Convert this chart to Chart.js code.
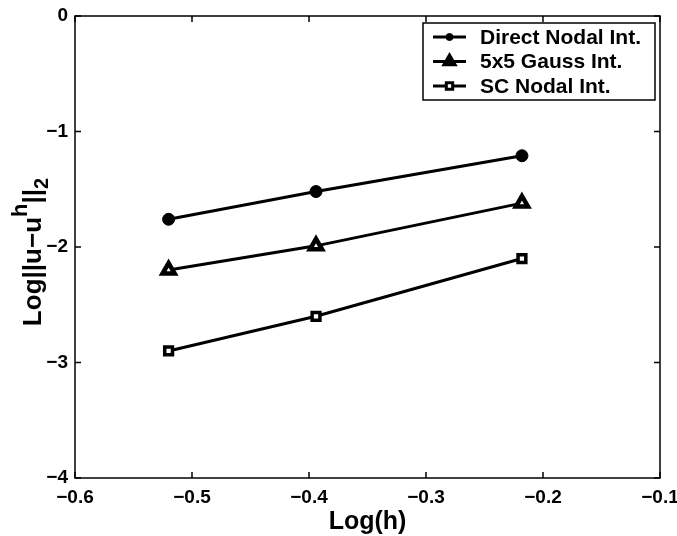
<!DOCTYPE html>
<html>
<head>
<meta charset="utf-8">
<script src="https://cdn.jsdelivr.net/npm/chart.js@4"></script>
<style>
  html, body { margin: 0; padding: 0; background: #ffffff; }
  #wrap { width: 677px; height: 536px; }
</style>
</head>
<body>
<div id="wrap"><canvas id="c" width="677" height="536"></canvas></div>
<script>
// Mesh size (log10 h) and L2 error norms for the three integration schemes
const logH = [-0.52, -0.394, -0.218];
const directNodal = [-1.76, -1.52, -1.21];
const gauss5x5 = [-2.20, -1.99, -1.62];
const scNodal = [-2.90, -2.60, -2.10];
const seriesNames = ['Direct Nodal Int.', '5x5 Gauss Int.', 'SC Nodal Int.'];
const xTicks = [-0.6, -0.5, -0.4, -0.3, -0.2, -0.1];
const yTicks = [0, -1, -2, -3, -4];

const FONT = '"Liberation Sans", Arial, Helvetica, sans-serif';
const INK = '#000000';

function pts(ys) { return logH.map((x, i) => ({ x: x, y: ys[i] })); }

const styles = [
  { pointStyle: 'circle', radius: 6, fill: INK, border: 1, legendRadius: 3.5, legendFill: INK },
  { pointStyle: 'triangle', radius: 7, fill: '#ffffff', border: 4.5, legendRadius: 6.5, legendFill: INK },
  { pointStyle: 'rect', radius: 5.5, fill: '#ffffff', border: 3.5, legendRadius: 4.5, legendFill: '#ffffff' }
];

const datasets = [directNodal, gauss5x5, scNodal].map((ys, i) => ({
  label: seriesNames[i],
  data: pts(ys),
  showLine: true,
  borderColor: INK,
  borderWidth: 3,
  pointStyle: styles[i].pointStyle,
  pointRadius: styles[i].radius,
  pointBackgroundColor: styles[i].fill,
  pointBorderColor: INK,
  pointBorderWidth: styles[i].border,
  tension: 0
}));

// Box frame with inward ticks on all four sides, plus axis titles
const framePlugin = {
  id: 'frame',
  afterDatasetsDraw(chart) {
    const { ctx, chartArea: a, scales } = chart;
    ctx.save();
    ctx.strokeStyle = INK;
    ctx.lineWidth = 1.5;
    ctx.strokeRect(a.left, a.top, a.right - a.left, a.bottom - a.top);
    const len = 6;
    ctx.beginPath();
    xTicks.forEach(v => {
      const px = scales.x.getPixelForValue(v);
      ctx.moveTo(px, a.bottom); ctx.lineTo(px, a.bottom - len);
      ctx.moveTo(px, a.top); ctx.lineTo(px, a.top + len);
    });
    yTicks.forEach(v => {
      const py = scales.y.getPixelForValue(v);
      ctx.moveTo(a.left, py); ctx.lineTo(a.left + len, py);
      ctx.moveTo(a.right, py); ctx.lineTo(a.right - len, py);
    });
    ctx.stroke();

    // x title
    ctx.fillStyle = INK;
    ctx.font = 'bold 25px ' + FONT;
    ctx.textAlign = 'center';
    ctx.textBaseline = 'alphabetic';
    ctx.fillText('Log(h)', (a.left + a.right) / 2, 529);

    // y title: Log||u-u^h||_2, rotated
    ctx.translate(41, 252);
    ctx.rotate(-Math.PI / 2);
    const parts = [
      { t: 'Log||u\u2212u', size: 26, dy: 0 },
      { t: 'h', size: 22, dy: -14 },
      { t: '||', size: 26, dy: 0 },
      { t: '2', size: 20, dy: 7 }
    ];
    let total = 0;
    parts.forEach(p => { ctx.font = 'bold ' + p.size + 'px ' + FONT; p.w = ctx.measureText(p.t).width; total += p.w; });
    let x0 = -total / 2;
    ctx.textAlign = 'left';
    parts.forEach(p => {
      ctx.font = 'bold ' + p.size + 'px ' + FONT;
      ctx.fillText(p.t, x0, p.dy);
      x0 += p.w;
    });
    ctx.restore();
  }
};

// Boxed legend in the upper right, each entry a line sample with its marker
const legendPlugin = {
  id: 'boxLegend',
  afterDraw(chart) {
    const { ctx } = chart;
    const box = { x: 423, y: 23, w: 232, h: 77 };
    ctx.save();
    ctx.fillStyle = '#ffffff';
    ctx.fillRect(box.x, box.y, box.w, box.h);
    ctx.strokeStyle = INK;
    ctx.lineWidth = 1.5;
    ctx.strokeRect(box.x, box.y, box.w, box.h);
    chart.data.datasets.forEach((ds, i) => {
      const cy = box.y + 14 + i * 24.5;
      const sx0 = box.x + 10, sx1 = box.x + 43;
      ctx.strokeStyle = INK;
      ctx.lineWidth = 3;
      ctx.beginPath(); ctx.moveTo(sx0, cy); ctx.lineTo(sx1, cy); ctx.stroke();
      ctx.fillStyle = styles[i].legendFill;
      ctx.lineWidth = Math.min(ds.pointBorderWidth, 3);
      Chart.helpers.drawPoint(ctx, {
        pointStyle: ds.pointStyle,
        radius: styles[i].legendRadius,
        borderWidth: Math.min(ds.pointBorderWidth, 3),
        rotation: 0
      }, (sx0 + sx1) / 2, cy);
      ctx.fillStyle = INK;
      ctx.font = 'bold 21px ' + FONT;
      ctx.textAlign = 'left';
      ctx.textBaseline = 'middle';
      ctx.fillText(ds.label, box.x + 57, cy + 1);
    });
    ctx.restore();
  }
};

new Chart(document.getElementById('c'), {
  type: 'scatter',
  data: { datasets: datasets },
  options: {
    responsive: false,
    animation: false,
    devicePixelRatio: 1,
    layout: { padding: { top: 16, right: 17, left: 0, bottom: 0 } },
    plugins: { legend: { display: false }, tooltip: { enabled: false } },
    scales: {
      x: {
        type: 'linear', min: -0.6, max: -0.1,
        afterBuildTicks(s) { s.ticks = xTicks.map(v => ({ value: v })); },
        afterFit(s) { s.height = 58; s.paddingLeft = 0; s.paddingRight = 0; },
        border: { display: false },
        grid: { display: false, drawTicks: false },
        ticks: {
          color: INK, padding: 8, maxRotation: 0,
          font: { family: FONT, size: 19, weight: 'bold' },
          callback: v => (Math.round(v * 10) / 10).toFixed(1).replace('-', '\u2212')
        }
      },
      y: {
        type: 'linear', min: -4, max: 0,
        afterBuildTicks(s) { s.ticks = yTicks.map(v => ({ value: v })); },
        afterFit(s) { s.width = 75; s.paddingTop = 0; s.paddingBottom = 0; },
        border: { display: false },
        grid: { display: false, drawTicks: false },
        ticks: {
          color: INK, padding: 7,
          font: { family: FONT, size: 19, weight: 'bold' },
          callback: v => String(v).replace('-', '\u2212')
        }
      }
    }
  },
  plugins: [framePlugin, legendPlugin]
});
</script>
</body>
</html>
